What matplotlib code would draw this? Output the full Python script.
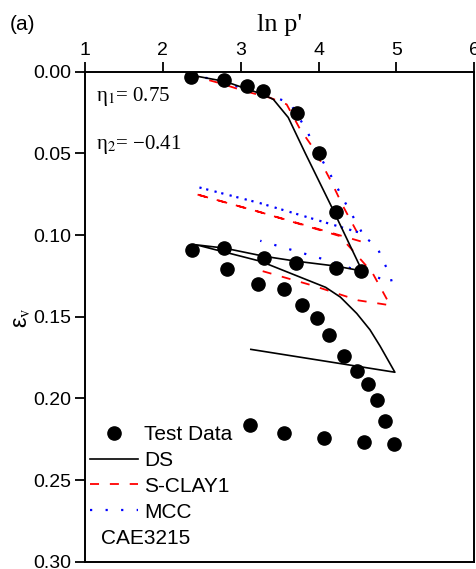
import matplotlib
matplotlib.use("Agg")
import matplotlib.pyplot as plt

plt.rcParams['font.family'] = ['Liberation Sans', 'DejaVu Sans']
plt.rcParams['mathtext.fontset'] = 'stix'

# test data (ln p', eps_v)
test_lnp = [2.36, 2.79, 3.08, 3.29, 3.72, 4.00, 4.22, 4.55,
            4.22, 3.71, 3.30, 2.79, 2.38,
            2.83, 3.22, 3.56, 3.79, 3.98, 4.14, 4.33, 4.49, 4.63, 4.75, 4.85, 4.97,
            4.58, 4.07, 3.56, 3.12]
test_eps = [0.003, 0.005, 0.009, 0.012, 0.025, 0.050, 0.086, 0.122,
            0.120, 0.117, 0.114, 0.108, 0.109,
            0.121, 0.130, 0.133, 0.143, 0.151, 0.161, 0.174, 0.183, 0.191, 0.201, 0.214, 0.228,
            0.227, 0.224, 0.221, 0.216]

# DS model
ds_lnp = [2.35, 2.80, 3.29, 3.42, 3.61, 3.83, 4.17, 4.56,
          4.22, 3.71, 3.30, 2.79, 2.43,
          3.25, 4.09, 4.28, 4.49, 4.66, 4.79, 4.98,
          4.32, 3.13]
ds_eps = [0.002, 0.006, 0.014, 0.017, 0.028, 0.050, 0.083, 0.122,
          0.119, 0.116, 0.113, 0.108, 0.106,
          0.116, 0.132, 0.138, 0.148, 0.158, 0.168, 0.184,
          0.179, 0.170]

# S-CLAY1 model
sc_lnp = [2.35, 2.73, 3.06, 3.38, 3.59, 3.76, 3.95, 4.17, 4.31, 4.48, 4.55,
          3.25, 2.39,
          3.25, 4.27, 4.43, 4.69, 4.92,
          4.51, 3.93, 3.20]
sc_eps = [0.002, 0.007, 0.012, 0.016, 0.020, 0.035, 0.048, 0.068, 0.082, 0.097, 0.104,
          0.086, 0.0745,
          0.086, 0.1006, 0.109, 0.123, 0.143,
          0.140, 0.131, 0.121]

# MCC model
mcc_lnp = [2.35, 2.58, 2.95, 3.33, 3.63, 3.85, 3.94, 4.14, 4.34, 4.54, 4.56,
           3.25, 2.43,
           3.25, 4.56, 4.61, 4.75, 4.82, 4.92, 4.94,
           4.15, 3.25]
mcc_eps = [0.002, 0.004, 0.009, 0.014, 0.019, 0.036, 0.0455, 0.062, 0.080, 0.097, 0.099,
           0.0805, 0.0704,
           0.0805, 0.099, 0.102, 0.107, 0.115, 0.1245, 0.129,
           0.116, 0.1035]

fig = plt.figure(figsize=(4.77, 5.69), dpi=100)
ax = fig.add_axes([85 / 477, 1 - 561.7 / 569, 389.3 / 477, 490 / 569])

ax.plot(test_lnp, test_eps, 'o', color='black', markersize=9.5, linestyle='none',
        label='Test Data', zorder=5)
ax.plot(ds_lnp, ds_eps, '-', color='black', lw=1.2, label='DS', zorder=4)
ax.plot(sc_lnp, sc_eps, color='red', lw=1.3, dashes=(5, 6), label='S-CLAY1', zorder=3)
ax.plot(mcc_lnp, mcc_eps, color='blue', lw=1.6, dashes=(1, 6), label='MCC', zorder=3)

ax.set_xlim(1, 6)
ax.set_ylim(0.30, 0.0)
ax.set_xticks([1, 2, 3, 4, 5, 6])
ax.set_yticks([0.0, 0.05, 0.10, 0.15, 0.20, 0.25, 0.30])
ax.set_yticklabels(['0.00', '0.05', '0.10', '0.15', '0.20', '0.25', '0.30'])
ax.xaxis.tick_top()
ax.tick_params(axis='both', direction='out', length=7, width=1.3, labelsize=14, pad=3)
ax.tick_params(axis='x', pad=2)
for s in ax.spines.values():
    s.set_linewidth(1.4)

fig.text(279.5 / 477, 1 - 25 / 569, "ln p'", ha='center', va='center',
         family='Liberation Serif', size=19)
fig.text(10 / 477, 1 - 25 / 569, '(a)', ha='left', va='center', size=15)
fig.text(22 / 477, 1 - 318 / 569, r'ε$_\mathrm{v}$', ha='center', va='center',
         rotation=90, size=17)

fig.text(96 / 477, 1 - 96 / 569, r'η$_1$= 0.75', ha='left', va='center',
         family='Liberation Serif', size=15)
fig.text(96 / 477, 1 - 144 / 569, r'η$_2$= −0.41', ha='left', va='center',
         family='Liberation Serif', size=15)

ax.legend(loc='upper left', bbox_to_anchor=(90 / 477, 1 - 425 / 569),
          bbox_transform=fig.transFigure, frameon=False, fontsize=15,
          borderpad=0, borderaxespad=0, handlelength=2.3, handletextpad=0.3,
          labelspacing=0.33)
fig.text(101 / 477, 1 - 538 / 569, 'CAE3215', ha='left', va='center', size=15)

fig.savefig('out.png', dpi=100)
